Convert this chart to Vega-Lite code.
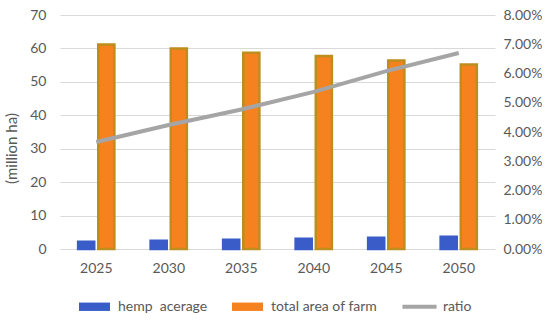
{
  "$schema": "https://vega.github.io/schema/vega-lite/v6.json",
  "autosize": {"type": "pad"},
  "width": 435,
  "height": 234,
  "padding": {"left": 4, "right": 0, "top": 8, "bottom": 0},
  "background": "white",
  "config": {
    "font": "Lato",
    "view": {"stroke": null},
    "axis": {"labelFont": "Lato", "labelFontSize": 14, "labelColor": "#595959", "titleFont": "Lato", "titleFontSize": 15, "titleColor": "#595959", "titleFontWeight": "normal"},
    "legend": {"labelFont": "Lato", "labelFontSize": 14, "labelColor": "#595959"}
  },
  "layer": [
    {
      "data": {"values": [
        {"year": "2025", "series": "hemp\u00a0 acerage", "value": 2.2},
        {"year": "2030", "series": "hemp\u00a0 acerage", "value": 2.5},
        {"year": "2035", "series": "hemp\u00a0 acerage", "value": 2.8},
        {"year": "2040", "series": "hemp\u00a0 acerage", "value": 3.1},
        {"year": "2045", "series": "hemp\u00a0 acerage", "value": 3.4},
        {"year": "2050", "series": "hemp\u00a0 acerage", "value": 3.7},
        {"year": "2025", "series": "total area of farm", "value": 61.2},
        {"year": "2030", "series": "total area of farm", "value": 60.0},
        {"year": "2035", "series": "total area of farm", "value": 58.7},
        {"year": "2040", "series": "total area of farm", "value": 57.7},
        {"year": "2045", "series": "total area of farm", "value": 56.4},
        {"year": "2050", "series": "total area of farm", "value": 55.2}
      ]},
      "mark": {"type": "bar", "strokeWidth": 2.5},
      "encoding": {
        "x": {"field": "year", "type": "nominal", "scale": {"paddingInner": 0.5, "paddingOuter": 0.25},
              "axis": {"title": null, "labelAngle": 0, "ticks": false, "domain": false, "labelPadding": 12}},
        "xOffset": {"field": "series", "type": "nominal", "scale": {"paddingInner": 0.2, "paddingOuter": 0}},
        "y": {"field": "value", "type": "quantitative", "scale": {"domain": [0, 70]},
              "axis": {"title": "(million ha)", "titleY": 133, "values": [0, 10, 20, 30, 40, 50, 60, 70], "ticks": false, "domain": false, "gridColor": "#D9D9D9", "labelPadding": 14, "titlePadding": 10}},
        "color": {"field": "series", "type": "nominal",
                  "scale": {"domain": ["hemp\u00a0 acerage", "total area of farm", "ratio"], "range": ["#3A5CC8", "#F5821F", "#A5A5A5"]},
                  "legend": {"title": null, "orient": "none", "legendX": 19, "legendY": 276, "direction": "horizontal", "columns": 3, "columnPadding": 24, "labelOffset": 8, "symbolSize": 961,
                             "encode": {"symbols": {"update": {
                               "shape": {"signal": "datum.value === 'ratio' ? 'M-1.1,-0.13H1.1V0.13H-1.1Z' : 'M-1,-0.27H1V0.27H-1Z'"},
                               "fill": {"signal": "datum.value === 'ratio' ? '#A5A5A5' : datum.value === 'total area of farm' ? '#BF8F1F' : '#3A5CC8'"},
                               "stroke": {"value": null},
                               "strokeWidth": {"value": 0}
                             }}}}},
        "stroke": {"field": "series", "type": "nominal",
                   "scale": {"domain": ["hemp\u00a0 acerage", "total area of farm"], "range": ["#3A5CC8", "#BD8D1E"]}, "legend": null}
      }
    },
    {
      "data": {"values": [
        {"year": "2025", "ratio": 0.0366},
        {"year": "2030", "ratio": 0.0424},
        {"year": "2035", "ratio": 0.0477},
        {"year": "2040", "ratio": 0.0537},
        {"year": "2045", "ratio": 0.0608},
        {"year": "2050", "ratio": 0.0670}
      ]},
      "mark": {"type": "line", "strokeWidth": 4, "color": "#A5A5A5"},
      "encoding": {
        "x": {"field": "year", "type": "nominal"},
        "y": {"field": "ratio", "type": "quantitative", "scale": {"domain": [0, 0.08]},
              "axis": {"orient": "right", "title": null, "format": ".2%", "values": [0, 0.01, 0.02, 0.03, 0.04, 0.05, 0.06, 0.07, 0.08], "ticks": false, "domain": false, "grid": false, "labelPadding": 8}},
        "color": {"datum": "ratio"}
      }
    }
  ],
  "resolve": {"scale": {"y": "independent", "stroke": "independent"}}
}
